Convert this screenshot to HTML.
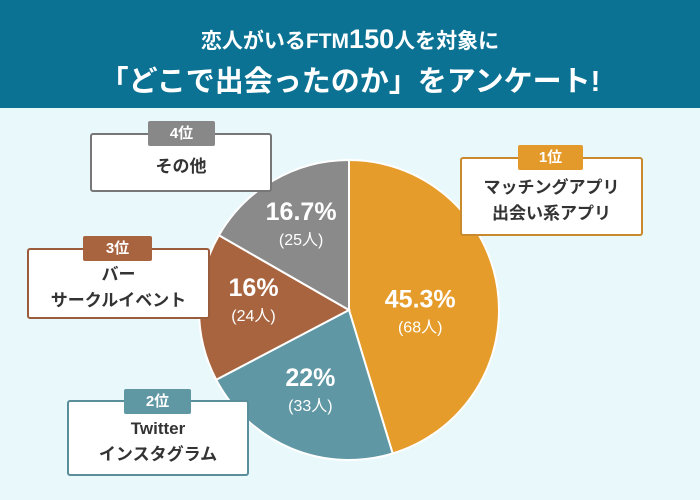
<!DOCTYPE html>
<html><head><meta charset="utf-8"><style>
body{margin:0;width:700px;height:500px;overflow:hidden;background:#e8f8fb;font-family:"Liberation Sans","Noto Sans CJK JP",sans-serif;position:relative}
.hdr{position:absolute;left:0;top:0;width:700px;height:108px;background:#0b7293;color:#fff;text-align:center;font-weight:bold}
.box{position:absolute;background:#fff;border:2px solid;border-radius:3px;text-align:center;font-weight:bold;color:#333;font-size:17px;line-height:26px;box-sizing:border-box;display:flex;flex-direction:column;justify-content:center;padding-top:8px}
.badge{position:absolute;color:#fff;font-size:15px;font-weight:bold;text-align:center;line-height:25px;height:25px;border-radius:2px}
</style></head><body>
<div class="hdr">
<div style="position:absolute;top:24px;width:100%;font-size:21px">恋人がいるFTM<span style="font-size:27px">150</span>人を対象に</div>
<div style="position:absolute;top:58px;width:100%;font-size:29px">「どこで出会ったのか」をアンケート!</div>
</div>
<svg id="pie" width="700" height="500" style="position:absolute;left:0;top:0"></svg>
<div class="box" style="left:460px;top:157px;width:183px;height:79px;border-color:#c98a2e"><div>マッチングアプリ</div><div>出会い系アプリ</div></div>
<div class="badge" style="left:518px;top:145px;width:65px;background:#e49a2a">1位</div>
<div class="box" style="left:90px;top:133px;width:182px;height:59px;border-color:#777"><div>その他</div></div>
<div class="badge" style="left:148px;top:121px;width:67px;background:#888">4位</div>
<div class="box" style="left:27px;top:248px;width:183px;height:71px;border-color:#9a5c3a"><div>バー</div><div>サークルイベント</div></div>
<div class="badge" style="left:83px;top:236px;width:69px;background:#a8643f">3位</div>
<div class="box" style="left:67px;top:400px;width:182px;height:76px;border-color:#5a8e9a"><div>Twitter</div><div>インスタグラム</div></div>
<div class="badge" style="left:124px;top:389px;width:67px;background:#5f97a3">2位</div>
<script>
const categories=["マッチングアプリ","Twitter","バー","その他"];
const values=[45.3,22,16,16.7];
const counts=[68,33,24,25];
const colors=["#e59c2b","#6097a4","#a8643f","#8a8a8a"];
const labelR=[72,78,98,109];
const labelShiftDeg=[0,7,12,4];
const svg=document.getElementById('pie');
const cx=349,cy=310,r=150,NS="http://www.w3.org/2000/svg";
const total=values.reduce((a,b)=>a+b,0);
let a0=0;
function pt(a,rr){return [cx+rr*Math.sin(a),cy-rr*Math.cos(a)];}
values.forEach((v,i)=>{
  const a1=a0+v/total*2*Math.PI;
  const p0=pt(a0,r),p1=pt(a1,r);
  const path=document.createElementNS(NS,'path');
  path.setAttribute('d',`M${cx},${cy}L${p0[0]},${p0[1]}A${r},${r} 0 ${a1-a0>Math.PI?1:0} 1 ${p1[0]},${p1[1]}Z`);
  path.setAttribute('fill',colors[i]);path.setAttribute('stroke','#fff');path.setAttribute('stroke-width','2');
  
  
  svg.appendChild(path);
  const m=(a0+a1)/2+labelShiftDeg[i]*Math.PI/180;
  const c=pt(m,labelR[i]);
  const t=document.createElementNS(NS,'text');
  t.setAttribute('x',c[0]);t.setAttribute('y',c[1]+8);t.setAttribute('text-anchor','middle');
  t.setAttribute('fill','#fff');t.setAttribute('font-size','25');t.setAttribute('font-weight','bold');
  t.textContent=v+'%';
  
  
  svg.appendChild(t);
  const t2=document.createElementNS(NS,'text');
  t2.setAttribute('x',c[0]);t2.setAttribute('y',c[1]+33);t2.setAttribute('text-anchor','middle');
  t2.setAttribute('fill','#fff');t2.setAttribute('font-size','16');
  t2.textContent='('+counts[i]+'人)';
  
  
  svg.appendChild(t2);
  a0=a1;
});
</script>
</body></html>
